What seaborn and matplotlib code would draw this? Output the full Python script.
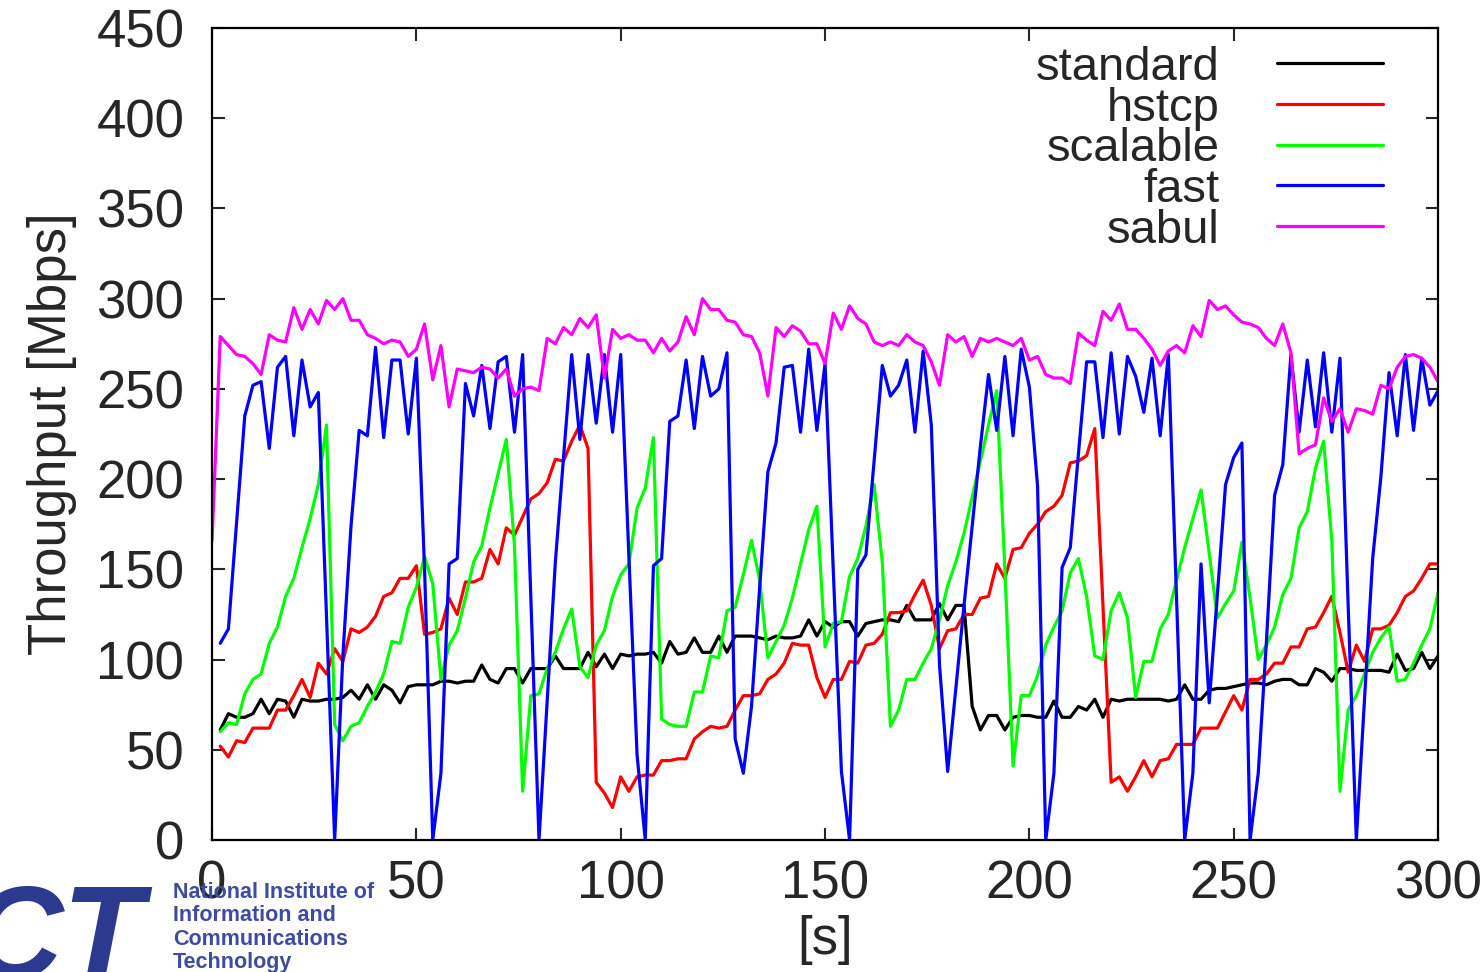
import numpy as np
import pandas as pd
import matplotlib
matplotlib.use('Agg')
import matplotlib.pyplot as plt
import seaborn as sns

# sampling times [s]
seconds = list(range(0, 302, 2))

# throughput [Mbps], one value every 2 s (first sample only for sabul)
standard = [np.nan,
            61, 70, 68, 68, 70, 78, 70, 78, 77, 68, 78, 77, 77, 78, 78, 79, 83, 78, 86, 78, 86, 83, 76, 85, 86,
            86, 86, 88, 88, 87, 88, 88, 97, 89, 87, 95, 95, 87, 95, 95, 95, 102, 95, 95, 95, 104, 96, 103, 95, 103,
            102, 103, 103, 104, 98, 110, 103, 104, 112, 104, 104, 113, 104, 113, 113, 113, 112, 111, 113, 112, 112, 113, 122, 113, 121,
            118, 121, 121, 113, 120, 121, 122, 122, 121, 130, 122, 122, 122, 131, 122, 130, 130, 74, 61, 69, 69, 61, 68, 69, 69,
            68, 68, 77, 68, 68, 74, 72, 78, 68, 78, 77, 78, 78, 78, 78, 78, 77, 78, 86, 78, 78, 83, 84, 84, 85,
            86, 87, 87, 86, 88, 89, 89, 86, 86, 95, 93, 88, 95, 95, 94, 94, 94, 94, 93, 103, 94, 95, 104, 95, 102]
hstcp = [np.nan,
         52, 46, 55, 54, 62, 62, 62, 72, 72, 80, 89, 79, 98, 92, 106, 99, 117, 115, 118, 124, 135, 137, 145, 145, 152,
         114, 115, 117, 134, 125, 143, 143, 145, 161, 153, 173, 169, 179, 189, 192, 198, 211, 210, 221, 230, 217, 32, 26, 18, 35,
         27, 35, 36, 36, 44, 44, 45, 45, 56, 60, 63, 62, 63, 72, 80, 80, 81, 89, 92, 98, 109, 108, 108, 90, 79,
         89, 89, 99, 98, 108, 109, 114, 126, 126, 127, 136, 144, 130, 106, 116, 117, 125, 125, 134, 135, 153, 145, 161, 162, 170,
         175, 182, 185, 191, 209, 210, 213, 228, 130, 32, 35, 27, 35, 44, 35, 44, 45, 53, 53, 53, 62, 62, 62, 71, 80,
         72, 89, 89, 92, 98, 98, 107, 107, 117, 118, 126, 135, 115, 93, 108, 99, 117, 117, 119, 126, 135, 138, 145, 153, 153]
scalable = [np.nan,
            60, 65, 64, 81, 89, 92, 109, 118, 135, 145, 162, 178, 197, 230, 64, 55, 63, 65, 74, 82, 92, 110, 109, 129, 140,
            157, 142, 89, 108, 116, 134, 154, 163, 184, 203, 222, 163, 27, 80, 81, 95, 104, 117, 128, 96, 90, 108, 116, 135, 147,
            153, 184, 195, 223, 67, 64, 63, 63, 82, 82, 102, 101, 127, 129, 147, 166, 144, 101, 110, 119, 134, 153, 172, 185, 107,
            120, 121, 146, 156, 174, 197, 154, 63, 72, 89, 89, 98, 106, 122, 141, 154, 170, 190, 210, 230, 249, 150, 41, 80, 80,
            91, 108, 118, 127, 148, 156, 135, 102, 100, 127, 137, 123, 79, 99, 99, 117, 125, 144, 162, 178, 194, 159, 123, 131, 138,
            165, 134, 100, 108, 118, 136, 145, 173, 182, 206, 221, 166, 27, 72, 80, 92, 104, 112, 118, 88, 89, 98, 108, 117, 137]
fast = [np.nan,
        109, 117, 176, 235, 252, 254, 217, 262, 268, 224, 266, 240, 248, 124, 0, 102, 174, 227, 224, 273, 223, 266, 266, 225, 267,
        150, 0, 37, 153, 156, 253, 235, 263, 228, 265, 268, 226, 269, 134, 0, 77, 154, 212, 269, 222, 269, 231, 269, 226, 269,
        157, 47, 0, 152, 156, 232, 235, 266, 228, 268, 246, 250, 270, 56, 37, 74, 140, 204, 220, 262, 263, 226, 272, 227, 264,
        150, 38, 0, 150, 158, 210, 263, 246, 252, 266, 226, 271, 230, 97, 38, 84, 130, 174, 218, 258, 227, 268, 224, 272, 251,
        196, 0, 37, 151, 162, 214, 265, 265, 223, 270, 225, 268, 257, 237, 267, 224, 269, 134, 0, 37, 153, 76, 136, 197, 212,
        220, 0, 37, 110, 191, 208, 269, 226, 266, 229, 270, 226, 267, 130, 0, 78, 156, 201, 259, 224, 269, 227, 267, 241, 249]
sabul = [166,
         279, 274, 269, 268, 264, 258, 280, 277, 276, 295, 283, 294, 286, 299, 294, 300, 288, 288, 280, 278, 275, 277, 276, 268, 272,
         286, 255, 274, 240, 261, 260, 259, 262, 261, 256, 261, 246, 250, 251, 249, 278, 275, 284, 280, 289, 284, 291, 256, 283, 278,
         280, 277, 277, 270, 278, 271, 276, 290, 280, 300, 294, 294, 288, 287, 280, 279, 270, 246, 284, 279, 285, 282, 275, 275, 264,
         292, 283, 296, 289, 286, 276, 274, 276, 274, 280, 276, 274, 265, 252, 280, 276, 279, 268, 278, 276, 278, 276, 274, 278, 266,
         268, 258, 256, 256, 253, 281, 277, 274, 293, 288, 297, 283, 283, 278, 272, 263, 271, 274, 270, 285, 279, 299, 294, 296, 291,
         287, 286, 284, 278, 274, 286, 270, 214, 217, 219, 245, 232, 239, 226, 239, 238, 236, 252, 250, 262, 268, 269, 267, 262, 254]

protocols = ['standard', 'hstcp', 'scalable', 'fast', 'sabul']
colors = ['#000000', '#ff0000', '#00ff00', '#0000ff', '#ff00ff']

frames = []
for name, vals in zip(protocols, [standard, hstcp, scalable, fast, sabul]):
    frames.append(pd.DataFrame({'time': seconds, 'throughput': vals, 'protocol': name}))
df = pd.concat(frames, ignore_index=True).dropna()

sns.set_style('ticks')
plt.rcParams['font.family'] = ['Liberation Sans', 'DejaVu Sans']

fig = plt.figure(figsize=(14.83, 9.72), dpi=100)
ax = fig.add_axes([0.143, 0.1358, 0.8267, 0.8354])

sns.lineplot(data=df, x='time', y='throughput', hue='protocol', hue_order=protocols,
             palette=colors, estimator=None, sort=False, linewidth=2.3, ax=ax)

ax.set_xlim(0, 300)
ax.set_ylim(0, 450)
ax.set_xticks(range(0, 301, 50))
ax.set_yticks(range(0, 451, 50))
ax.tick_params(axis='both', direction='in', length=9, width=1.5, labelsize=38,
               top=True, right=True)
ax.tick_params(axis='x', pad=14)
ax.tick_params(axis='y', pad=20)
for sp in ax.spines.values():
    sp.set_linewidth(1.6)
    sp.set_color('black')

ax.set_xlabel('[s]', fontsize=38, labelpad=4)
ax.set_ylabel('Throughput [Mbps]', fontsize=38, labelpad=14)

ax.legend(loc='upper right', bbox_to_anchor=(0.955, 0.978), frameon=False,
          markerfirst=False, fontsize=34, handlelength=2.25, handletextpad=1.2,
          labelspacing=-0.07, borderpad=0, borderaxespad=0)

# institute logo in the lower left corner
fig.text(-0.022, 0.093, 'CT', fontsize=95, fontstyle='italic', fontweight='heavy',
         color='#2b3a8f', va='top', ha='left')
fig.text(0.1167, 0.0926, 'National Institute of\nInformation and\nCommunications\nTechnology',
         fontsize=15.5, fontweight='bold', color='#3d4c9e', va='top', ha='left',
         linespacing=1.15)

fig.savefig('out.png', dpi=100)
